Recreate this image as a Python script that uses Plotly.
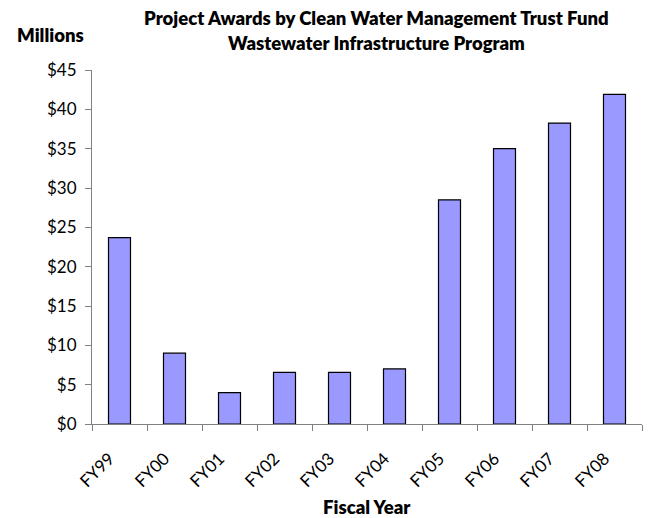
import plotly.graph_objects as go

years = ["FY99", "FY00", "FY01", "FY02", "FY03", "FY04", "FY05", "FY06", "FY07", "FY08"]
awards = [23.7, 9.0, 4.0, 6.55, 6.55, 7.0, 28.5, 35.0, 38.25, 41.9]
y_ticks = [0, 5, 10, 15, 20, 25, 30, 35, 40, 45]
y_labels = ["$" + str(v) for v in y_ticks]
title_lines = ["Project Awards by Clean Water Management Trust Fund",
               "Wastewater Infrastructure Program"]

FONT = "Lato"
L, R, T, B = 92, 6, 70, 94
W, H = 648, 518
PW, PH = W - L - R, H - T - B


def px_x(x):
    return (x - L) / PW


def px_y(y):
    return 1 - (y - T) / PH


fig = go.Figure(go.Bar(
    x=years, y=awards, width=0.4,
    marker=dict(color="#9999FF", line=dict(color="black", width=1.2)),
))

ann = []
for i, line in enumerate(title_lines):
    ann.append(dict(
        text=line, xref="paper", yref="paper",
        x=px_x(376), y=px_y(18 + 25 * i),
        xanchor="center", yanchor="middle", showarrow=False,
        font=dict(family=FONT, size=18.5, color="black", weight=800),
    ))
ann.append(dict(
    text="Millions", xref="paper", yref="paper",
    x=px_x(15), y=px_y(35), xanchor="left", yanchor="middle",
    showarrow=False, font=dict(family=FONT, size=18.5, color="black", weight=800),
))
ann.append(dict(
    text="Fiscal Year", xref="paper", yref="paper",
    x=px_x(367), y=px_y(507), xanchor="center", yanchor="middle",
    showarrow=False, font=dict(family=FONT, size=18.5, color="black", weight=800),
))

fig.update_layout(
    width=W, height=H,
    margin=dict(l=L, r=R, t=T, b=B, autoexpand=False),
    paper_bgcolor="white", plot_bgcolor="white",
    font=dict(family=FONT, size=17, color="black"),
    showlegend=False,
    bargap=0.6,
    annotations=ann,
    xaxis=dict(
        tickangle=-45, showline=True, linecolor="#808080", linewidth=1,
        ticks="outside", ticklen=6, tickcolor="#808080", tickson="boundaries",
        showgrid=False, automargin=False, tickfont=dict(size=17),
        ticklabelstandoff=17, ticklabelshift=-10,
    ),
    yaxis=dict(
        range=[0, 45], tickvals=y_ticks, ticktext=y_labels,
        showline=True, linecolor="#808080", linewidth=1,
        ticks="outside", ticklen=6, tickcolor="#808080",
        showgrid=False, zeroline=False, automargin=False, tickfont=dict(size=17),
        ticklabelstandoff=5,
    ),
)

fig.write_html("out.html", config={"displayModeBar": False},
               post_script="document.body.style.margin='0';")
